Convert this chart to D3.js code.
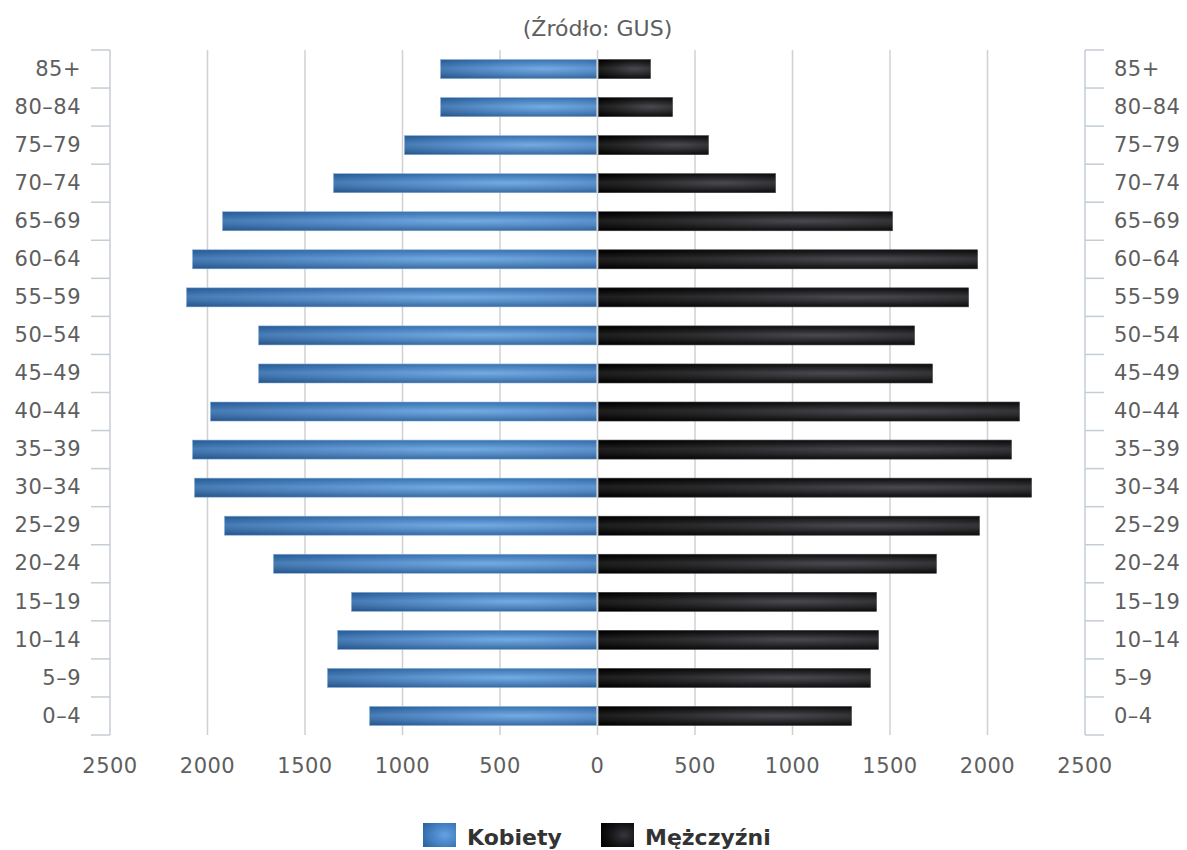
<!DOCTYPE html>
<html><head><meta charset="utf-8">
<script src="https://cdn.jsdelivr.net/npm/d3@7"></script>
<style>
body{margin:0;background:#fff;}
svg text{font-family:"DejaVu Sans",Verdana,sans-serif;}
</style></head>
<body><svg id="c" width="1187" height="850"></svg>
<script>
const categories = ["0–4","5–9","10–14","15–19","20–24","25–29","30–34","35–39","40–44","45–49","50–54","55–59","60–64","65–69","70–74","75–79","80–84","85+"];
const kobiety = [1169,1385,1333,1262,1662,1913,2067,2077,1985,1738,1738,2108,2077,1923,1354,990,805,805];
const mezczyzni = [1303,1400,1441,1431,1738,1959,2226,2123,2164,1718,1626,1903,1949,1513,913,569,385,272];
const xTicks = [2500,2000,1500,1000,500,0,500,1000,1500,2000,2500];
const title = "(Źródło: GUS)";
const seriesNames = ["Kobiety","Mężczyźni"];

(function(){
const svg = d3.select("#c");
const pL=110, pR=1085, pT=50, pB=735, center=597.5;
const lblCol = "#5e5e5e";

const defs = svg.append("defs");
function radial(id, cx, stops){
  const g = defs.append("radialGradient").attr("id",id).attr("cx",cx).attr("cy",0.5).attr("r",0.8).attr("fx",cx).attr("fy",0.5);
  stops.forEach(s=>g.append("stop").attr("offset",s[0]).attr("stop-color",s[1]));
}
radial("gw",0.66,[[0,"#64a2e0"],[0.5,"#4682c4"],[1,"#2a62a0"]]);
radial("gm",0.7,[[0,"#35353c"],[0.55,"#141416"],[1,"#000"]]);
const vg = defs.append("linearGradient").attr("id","gv").attr("x1",0).attr("y1",0).attr("x2",0).attr("y2",1);
vg.append("stop").attr("offset",0).attr("stop-color","#000").attr("stop-opacity",0.06);
vg.append("stop").attr("offset",0.45).attr("stop-color","#fff").attr("stop-opacity",0.1);
vg.append("stop").attr("offset",1).attr("stop-color","#000").attr("stop-opacity",0.14);

const xL = d3.scaleLinear().domain([2500,0]).range([pL,center]);
const xR = d3.scaleLinear().domain([0,2500]).range([center,pR]);
const y = d3.scaleBand().domain(categories.slice().reverse()).range([pT,pB]).paddingInner(0.5).paddingOuter(0.25);
const yb = d3.scaleBand().domain(categories.slice().reverse()).range([pT,pB]);

svg.append("text").attr("x",center).attr("y",36).attr("text-anchor","middle")
  .attr("font-size",22).attr("fill",lblCol).text(title);

const gridVals = [2000,1500,1000,500];
const gl = svg.append("g").attr("stroke","#d0d0d0").attr("stroke-width",1.5);
gridVals.forEach(v=>{
  gl.append("line").attr("x1",xL(v)).attr("x2",xL(v)).attr("y1",pT).attr("y2",pB);
  gl.append("line").attr("x1",xR(v)).attr("x2",xR(v)).attr("y1",pT).attr("y2",pB);
});
gl.append("line").attr("x1",center).attr("x2",center).attr("y1",pT).attr("y2",pB);

function styleLbl(sel){
  sel.attr("font-size",21).attr("fill",lblCol).attr("letter-spacing","0.5px").attr("font-family","DejaVu Sans");
}
const yAxisL = d3.axisLeft(yb).tickSize(0).tickPadding(29);
const gL = svg.append("g").attr("transform",`translate(${pL},0)`).call(yAxisL);
gL.select(".domain").remove();
styleLbl(gL.selectAll("text"));
const axCol="#c4ccd4";
svg.append("line").attr("x1",pL).attr("x2",pL).attr("y1",pT).attr("y2",pB).attr("stroke",axCol).attr("stroke-width",1.5);
svg.append("line").attr("x1",pR).attr("x2",pR).attr("y1",pT).attr("y2",pB).attr("stroke",axCol).attr("stroke-width",1.5);
const bounds = yb.domain().map(d=>yb(d)).concat([pB]);
bounds.forEach(b=>{
  svg.append("line").attr("x1",pL-19).attr("x2",pL).attr("y1",b).attr("y2",b).attr("stroke",axCol).attr("stroke-width",1.5);
  svg.append("line").attr("x1",pR).attr("x2",pR+19).attr("y1",b).attr("y2",b).attr("stroke",axCol).attr("stroke-width",1.5);
});
const yAxisR = d3.axisRight(yb).tickSize(0).tickPadding(29);
const gR = svg.append("g").attr("transform",`translate(${pR},0)`).call(yAxisR);
gR.select(".domain").remove();
styleLbl(gR.selectAll("text"));

const xPos = xTicks.map((v,i)=> i<5 ? xL(v) : (i===5 ? center : xR(v)));
styleLbl(svg.append("g").selectAll("text").data(xTicks).join("text")
  .attr("x",(d,i)=>xPos[i]).attr("y",773).attr("text-anchor","middle").text(d=>d));

const bh = y.bandwidth();
const gb = svg.append("g");
categories.forEach((c,i)=>{
  const yy = y(c);
  const xw = xL(kobiety[i]);
  gb.append("rect").attr("x",xw).attr("y",yy).attr("width",center-1-xw).attr("height",bh).attr("fill","url(#gw)").attr("stroke","#8fb8e0").attr("stroke-width",0.6);
  gb.append("rect").attr("x",xw).attr("y",yy).attr("width",center-1-xw).attr("height",bh).attr("fill","url(#gv)");
  const xm = xR(mezczyzni[i]);
  gb.append("rect").attr("x",center+1).attr("y",yy).attr("width",xm-center-1).attr("height",bh).attr("fill","url(#gm)").attr("stroke","#444").attr("stroke-width",0.6);
  gb.append("rect").attr("x",center+1).attr("y",yy).attr("width",xm-center-1).attr("height",bh).attr("fill","url(#gv)");
});

const leg = svg.append("g");
const legItems = [{x:423,fill:"url(#gw)",t:seriesNames[0]},{x:601,fill:"url(#gm)",t:seriesNames[1]}];
legItems.forEach(it=>{
  leg.append("rect").attr("x",it.x).attr("y",823).attr("width",33).attr("height",24).attr("fill",it.fill);
  leg.append("text").attr("x",it.x+44).attr("y",845).attr("font-size",22).attr("font-weight","bold").attr("fill","#333").text(it.t);
});
})();
</script></body></html>
